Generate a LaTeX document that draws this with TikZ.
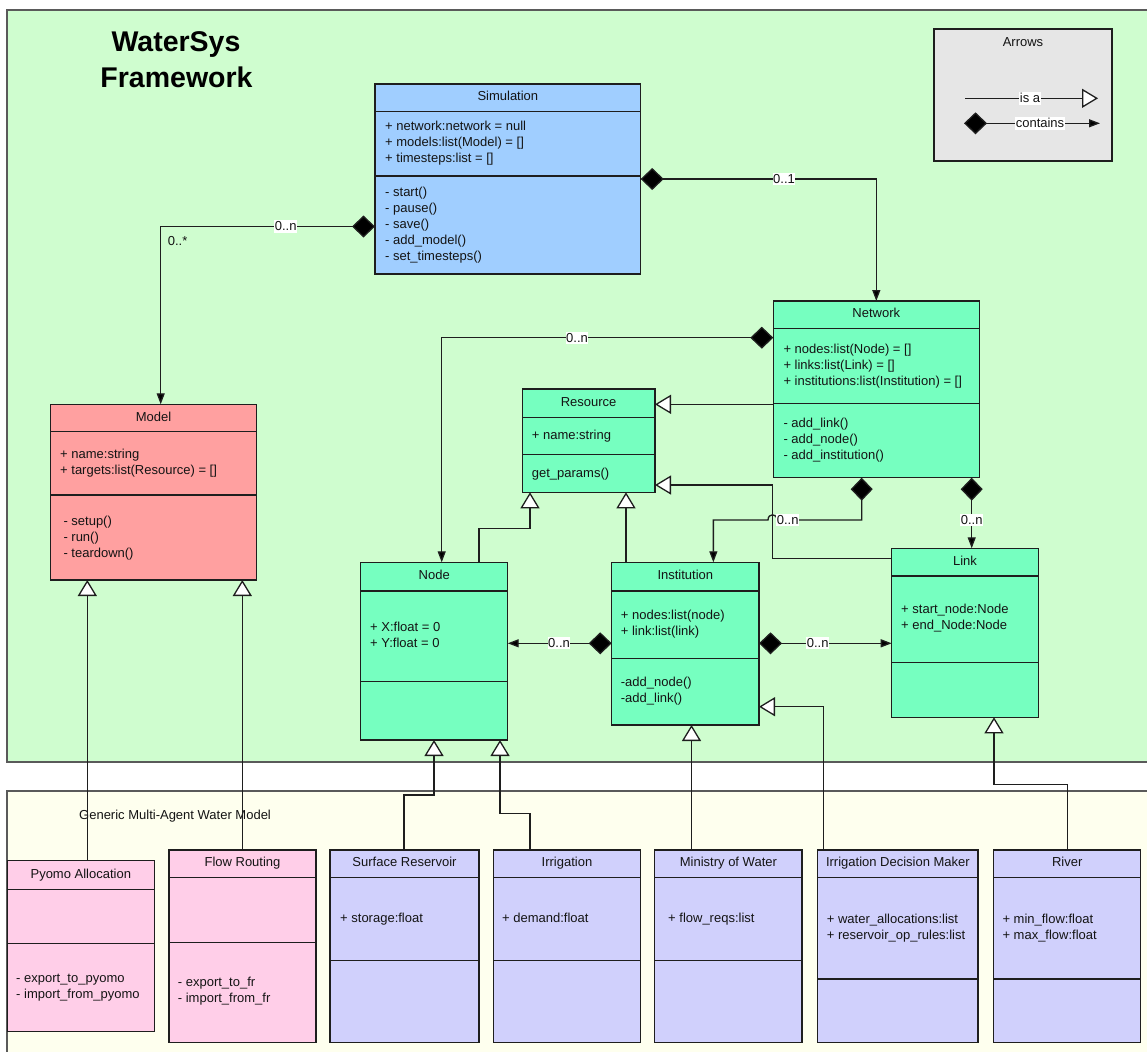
\documentclass[tikz,border=0pt]{standalone}
\usepackage{fontspec}
\setmainfont{Liberation Sans}
\usetikzlibrary{arrows.meta}

\definecolor{bggreen}{RGB}{207,253,207}
\definecolor{bgyellow}{RGB}{254,255,238}
\definecolor{simblue}{RGB}{160,206,255}
\definecolor{modelred}{RGB}{255,160,160}
\definecolor{teal}{RGB}{118,255,192}
\definecolor{pinkcls}{RGB}{255,206,232}
\definecolor{lavcls}{RGB}{208,208,252}
\definecolor{legendgray}{RGB}{230,230,230}
\definecolor{linec}{RGB}{30,30,30}
\definecolor{framec}{RGB}{90,90,90}
\definecolor{textc}{RGB}{20,20,20}

\tikzset{
  txt/.style={font=\fontsize{13}{16}\selectfont, text=textc, inner sep=0pt},
  classbox/.style={draw=linec, line width=1.3pt, inner sep=0pt, outer sep=0pt},
  boxline/.style={draw=linec, line width=1.3pt},
  titletext/.style={txt, anchor=base},
  member/.style={txt, anchor=base west},
  mult/.style={txt, fill=white, inner xsep=0.6pt, inner ysep=1.5pt},
  conn/.style={draw=linec, line width=1.3pt, line join=miter},
  has/.style={conn, arrows={Diamond[length=23pt,width=22pt,fill=black]-Triangle[length=11pt,width=8pt,fill=black]}},
  isa/.style={conn, arrows={-Triangle[length=16pt,width=19pt,fill=white]}},
  frame/.style={draw=framec, line width=1.2pt},
}

% class box: id, left, top, right, header rule, section rule, bottom, fill, title
\newcommand{\umlclass}[9]{%
  \pgfmathsetmacro{\clsW}{#4-#2}%
  \pgfmathsetmacro{\clsH}{#7-#3}%
  \node[classbox, fill=#8, minimum width=\clsW pt, minimum height=\clsH pt]
    (#1) at ({(#2+#4)/2},{(#3+#7)/2}) {};
  \draw[boxline] (#1.west |- 0,#5) -- (#1.east |- 0,#5);
  \draw[boxline] (#1.west |- 0,#6) -- (#1.east |- 0,#6);
  \node[titletext] (#1-title) at ({(#2+#4)/2},{(#3+#5)/2+3}) {#9};
}
% member rows: id, left, first baseline, list of rows
\newcommand{\members}[4]{%
  \foreach \t [count=\i] in {#4} {\node[member] (#1-\i) at ({#2},{#3+16*(\i-1)}) {\t};}%
}

\begin{document}
\begin{tikzpicture}[x=1pt, y=-1pt]
\useasboundingbox (0,0) rectangle (1147,1051);
\clip (0,0) rectangle (1147,1051);
\fill[white] (0,0) rectangle (1147,1051);

% package areas
\draw[frame, fill=bggreen] (7,10) rectangle (1170,762);
\draw[frame, fill=bgyellow] (7,791) rectangle (1170,1080);

\node[anchor=base, inner sep=0pt, font=\fontsize{28.5}{34}\selectfont\bfseries] (head1) at (176,51.7) {WaterSys};
\node[anchor=base, inner sep=0pt, font=\fontsize{28.5}{34}\selectfont\bfseries] (head2) at (176.5,87.3) {Framework};
\node[member] (pkg) at (79,819.5) {Generic Multi-Agent Water Model};

% legend
\node[classbox, fill=legendgray, minimum width=178pt, minimum height=132pt] (legend) at (1023,95) {};
\node[titletext] (legend-title) at (1023,46.2) {Arrows};

% core framework classes
\umlclass{sim}{375}{84}{640.7}{111.7}{176}{274}{simblue}{Simulation}
\members{sim-a}{385}{130.2}{{+ network:network = null},{+ models:list(Model) = []},{+ timesteps:list = []}}
\members{sim-m}{385}{196.5}{{- start()},{- pause()},{- save()},{- add\_model()},{- set\_timesteps()}}

\umlclass{model}{50.3}{404.3}{256.7}{431.7}{495}{580}{modelred}{Model}
\members{model-a}{60}{458.8}{{+ name:string},{+ targets:list(Resource) = []}}
\members{model-m}{63.3}{525.5}{{- setup()},{- run()},{- teardown()}}

\umlclass{net}{773.3}{301}{979.3}{328.3}{403.3}{477.7}{teal}{Network}
\members{net-a}{783.3}{353.8}{{+ nodes:list(Node) = []},{+ links:list(Link) = []},{+ institutions:list(Institution) = []}}
\members{net-m}{783.3}{427.8}{{- add\_link()},{- add\_node()},{- add\_institution()}}

\umlclass{res}{522.3}{389}{655}{417.3}{454.3}{492.3}{teal}{Resource}
\members{res-a}{531.7}{439.5}{{+ name:string}}
\members{res-m}{531.7}{477.2}{{get\_params()}}

\umlclass{clsnode}{360.7}{562.3}{507.7}{591}{681.7}{740}{teal}{Node}
\members{clsnode-a}{370}{631.2}{{+ X:float = 0},{+ Y:float = 0}}

\umlclass{inst}{611.7}{562.3}{759}{591}{658.3}{725}{teal}{Institution}
\members{inst-a}{620.7}{619.5}{{+ nodes:list(node)},{+ link:list(link)}}
\members{inst-m}{620.7}{686.8}{{-add\_node()},{-add\_link()}}

\umlclass{link}{891.7}{548.3}{1038.3}{576}{662.3}{717.3}{teal}{Link}
\members{link-a}{901}{613.8}{{+ start\_node:Node},{+ end\_Node:Node}}

% model-specific classes
\umlclass{pyomo}{7.3}{860.7}{154.3}{889.3}{943.3}{1031.7}{pinkcls}{Pyomo Allocation}
\members{pyomo-m}{16}{982.8}{{- export\_to\_pyomo},{- import\_from\_pyomo}}

\umlclass{flow}{169}{850}{316}{877.7}{942.3}{1042.3}{pinkcls}{Flow Routing}
\members{flow-m}{177.7}{986.8}{{- export\_to\_fr},{- import\_from\_fr}}

\umlclass{surf}{330}{850}{479}{877.7}{960.7}{1042.3}{lavcls}{Surface Reservoir}
\members{surf-a}{340}{922.2}{{+ storage:float}}

\umlclass{irr}{493.6}{850}{640.4}{877.7}{960.7}{1042.3}{lavcls}{Irrigation}
\members{irr-a}{502}{922.2}{{+ demand:float}}

\umlclass{min}{654.8}{850}{802}{877.7}{960.7}{1042.3}{lavcls}{Ministry of Water}
\members{min-a}{668}{922.2}{{+ flow\_reqs:list}}

\umlclass{idm}{817.7}{850}{978.1}{877.7}{979}{1042.3}{lavcls}{Irrigation Decision Maker}
\members{idm-a}{826.7}{923.5}{{+ water\_allocations:list},{+ reservoir\_op\_rules:list}}

\umlclass{river}{993.8}{850}{1140.6}{877.7}{979}{1042.3}{lavcls}{River}
\members{river-a}{1002.3}{923.5}{{+ min\_flow:float},{+ max\_flow:float}}

% composition connectors
\draw[has] (sim.west |- 0,226.5) -| ([xshift=7.2pt]model.north);
\draw[has] (sim.east) -| (net.north);
\draw[has] (net.west |- 0,337.7) -| ([xshift=7.5pt]clsnode.north);
\draw[has] ([xshift=-14.6pt]net.south) |- (777,520)
  .. controls (777,513) and (768,513) .. (768,520) -| ([xshift=28pt]inst.north);
\draw[has] ([xshift=95.4pt]net.south) -- ([xshift=6.7pt]link.north);
\draw[has] (inst.west |- 0,643.3) -- (clsnode.east |- 0,643.3);
\draw[has] (inst.east |- 0,643.3) -- (link.west |- 0,643.3);

% generalisation connectors
\draw[isa] (net.west |- 0,404.3) -- (res.east |- 0,404.3);
\draw[isa] (link.west |- 0,558.3) -| (772.7,485) -- (res.east |- 0,485);
\draw[isa] (clsnode.north -| 479,0) |- (530,528.3) -- (res.south -| 530,0);
\draw[isa] (inst.north -| 626,0) -- (res.south -| 626,0);
\draw[isa] (pyomo.north -| 87.3,0) -- (model.south -| 87.3,0);
\draw[isa] (flow.north -| 242.3,0) -- (model.south -| 242.3,0);
\draw[isa] (surf.north -| 404,0) |- (434,795) -- (clsnode.south -| 434,0);
\draw[isa] (irr.north -| 530,0) |- (500,813.3) -- (clsnode.south -| 500,0);
\draw[isa] (min.north -| 691.5,0) -- (inst.south -| 691.5,0);
\draw[isa] (idm.north -| 823.7,0) |- (inst.east |- 0,706.7);
\draw[isa] (river.north -| 1067.8,0) |- (994,784.3) -- (link.south -| 994,0);

% multiplicities
\node[mult] (mul-simmodel) at (285.7,226.5) {0..n};
\node[member] (mul-model) at (167.7,245.2) {0..*};
\node[mult] (mul-simnet) at (784,179) {0..1};
\node[mult] (mul-netnode) at (577,337.7) {0..n};
\node[mult] (mul-netinst) at (787.7,520) {0..n};
\node[mult] (mul-netlink) at (971.7,520) {0..n};
\node[mult] (mul-instnode) at (559,643.3) {0..n};
\node[mult] (mul-instlink) at (817.7,643.3) {0..n};

% legend samples
\coordinate (isa-a) at (965,98.3);
\coordinate (isa-b) at (1098,98.3);
\draw[isa] (isa-a) -- (isa-b);
\node[mult] (isa-lbl) at (1030,98.3) {is a};
\coordinate (has-a) at (964,123.3);
\coordinate (has-b) at (1100,123.3);
\draw[has] (has-a) -- (has-b);
\node[mult] (has-lbl) at (1040,123.3) {contains};
\end{tikzpicture}
\end{document}
